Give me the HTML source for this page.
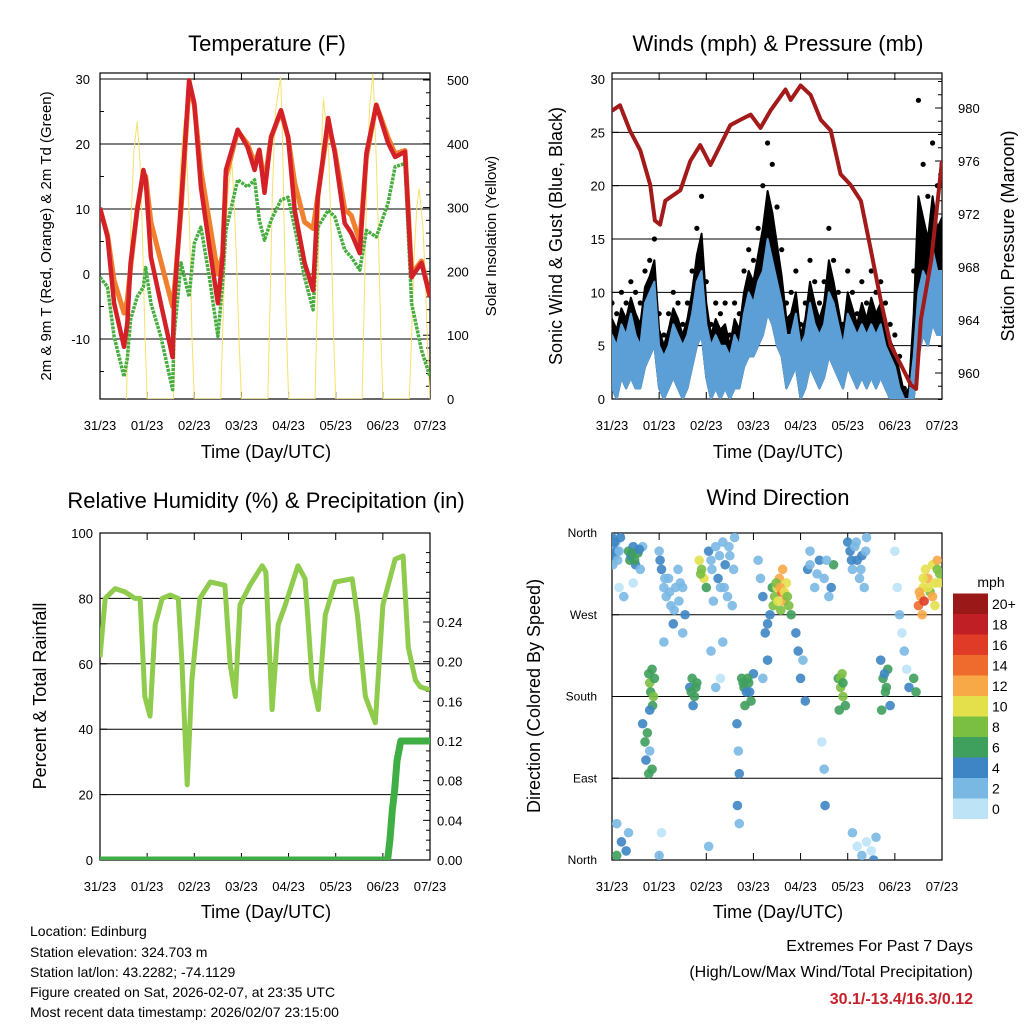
<!DOCTYPE html>
<html><head><meta charset="utf-8">
<style>
body{margin:0;background:#fff;}
svg{display:block;font-family:"Liberation Sans",sans-serif;}
</style></head>
<body>
<svg id="chart" xmlns="http://www.w3.org/2000/svg" width="1024" height="1024" viewBox="0 0 1024 1024">
<rect width="1024" height="1024" fill="#fff"/>
<defs>
<clipPath id="c1"><rect x="100" y="73" width="330" height="326"/></clipPath>
<clipPath id="c2"><rect x="612" y="73" width="330" height="326"/></clipPath>
<clipPath id="c3"><rect x="100" y="533" width="330" height="327"/></clipPath>
<clipPath id="c4"><rect x="612" y="533" width="330" height="327"/></clipPath>
</defs>
<text x="267" y="51" font-size="22" text-anchor="middle">Temperature (F)</text>
<text x="778" y="51" font-size="22" text-anchor="middle">Winds (mph) &amp; Pressure (mb)</text>
<text x="266" y="508" font-size="22" text-anchor="middle">Relative Humidity (%) &amp; Precipitation (in)</text>
<text x="778" y="505" font-size="22" text-anchor="middle">Wind Direction</text>
<text x="266" y="458" font-size="18" text-anchor="middle">Time (Day/UTC)</text>
<text x="778" y="458" font-size="18" text-anchor="middle">Time (Day/UTC)</text>
<text x="266" y="918" font-size="18" text-anchor="middle">Time (Day/UTC)</text>
<text x="778" y="918" font-size="18" text-anchor="middle">Time (Day/UTC)</text>
<text transform="translate(51,236) rotate(-90)" font-size="15" text-anchor="middle">2m &amp; 9m T (Red, Orange) &amp; 2m Td (Green)</text>
<text transform="translate(496,236) rotate(-90)" font-size="15" text-anchor="middle">Solar Insolation (Yellow)</text>
<text transform="translate(562,236) rotate(-90)" font-size="18" text-anchor="middle">Sonic Wind &amp; Gust (Blue, Black)</text>
<text transform="translate(1014,236) rotate(-90)" font-size="18" text-anchor="middle">Station Pressure (Maroon)</text>
<text transform="translate(46,696) rotate(-90)" font-size="18" text-anchor="middle">Percent &amp; Total Rainfall</text>
<text transform="translate(540,696) rotate(-90)" font-size="18" text-anchor="middle">Direction (Colored By Speed)</text>
<text x="991" y="587" font-size="14" text-anchor="middle">mph</text>
<g font-size="14">
<text x="30" y="936">Location: Edinburg</text>
<text x="30" y="957">Station elevation: 324.703 m</text>
<text x="30" y="977">Station lat/lon: 43.2282; -74.1129</text>
<text x="30" y="997">Figure created on Sat, 2026-02-07, at 23:35 UTC</text>
<text x="30" y="1017">Most recent data timestamp: 2026/02/07 23:15:00</text>
</g>
<g font-size="16" text-anchor="end">
<text x="973" y="951">Extremes For Past 7 Days</text>
<text x="973" y="977">(High/Low/Max Wind/Total Precipitation)</text>
<text x="973" y="1004" fill="#c8202a" font-weight="bold">30.1/-13.4/16.3/0.12</text>
</g>
</svg>
<script>
// ---------- data ----------
const dayLabels = ["31/23","01/23","02/23","03/23","04/23","05/23","06/23","07/23"];
const tempT = [0,0.16,0.3,0.51,0.58,0.65,0.79,0.92,0.97,1.08,1.29,1.54,1.57,1.72,1.89,2.0,2.14,2.32,2.5,2.6,2.67,2.92,3.13,3.28,3.38,3.49,3.63,3.84,3.99,4.13,4.34,4.52,4.62,4.84,4.98,5.19,5.33,5.51,5.65,5.86,6.11,6.26,6.47,6.61,6.82,7.0];
const temp2m = [10.2,5.7,-4.5,-11.2,-7.6,1.7,9.8,16,14.5,2.6,-4.5,-12.8,-4.5,10.9,29.8,26.3,13.4,4.2,-4.5,2.6,16,22.2,19.5,16,19.1,12.5,21.1,25.2,21.1,9.8,1.7,-2.5,11.8,24,18.6,7.8,6.3,3.2,18.6,26,20.2,18,18.8,-0.5,1.7,-3.5];
const temp9m = [10,6,-1,-6,-4,1,10,15.5,15,8,2,-5,-3,10,29,26,16,8,0,3,15,22,20,17,19,14,21,25,21,14,8,7,12,23,19,10,9,5,18,26,21,18.5,19,0,2,-3.5];
const dewpt = [-0.5,-2,-9.6,-15.8,-13,-7,-3.5,-2,1,-4.5,-9.6,-17.8,-9.6,1.7,-3.5,4.7,7.2,-0.5,-9.6,-1.4,6.7,14.5,13.4,14.5,8.3,5.2,8.3,11.4,11.8,7.2,-0.5,-5.5,7.2,9.8,8.8,3.7,2.6,0.6,6.7,5.7,10.9,16.5,17,-4.5,-11.7,-15.8];
const solarT = [0.56,0.61,0.66,0.72,0.79,0.85,0.9,0.95,1.0, 1.56,1.61,1.66,1.72,1.79,1.85,1.9,1.95,2.0, 2.56,2.61,2.66,2.72,2.8,2.85,2.9,2.95,3.0, 3.56,3.61,3.66,3.72,3.83,3.87,3.9,3.95,4.0, 4.56,4.61,4.66,4.72,4.74,4.85,4.9,4.95,5.0, 5.56,5.61,5.66,5.72,5.79,5.85,5.9,5.95,6.0, 6.56,6.61,6.66,6.72,6.77,6.85,6.9,6.95,7.0];
const solarV = [0,130,285,390,435,370,260,110,0, 0,140,300,380,440,360,270,100,0, 0,120,250,330,370,300,210,90,0, 0,160,330,450,505,420,290,120,0, 0,150,300,440,470,390,270,110,0, 0,170,340,460,510,400,280,120,0, 0,100,220,300,330,270,190,80,0];

const windT = [0,0.1,0.2,0.3,0.4,0.5,0.6,0.7,0.8,0.9,1,1.1,1.2,1.3,1.4,1.5,1.6,1.7,1.8,1.9,2,2.1,2.2,2.3,2.4,2.5,2.6,2.7,2.8,2.9,3,3.1,3.2,3.3,3.4,3.5,3.6,3.7,3.8,3.9,4,4.1,4.2,4.3,4.4,4.5,4.6,4.7,4.8,4.9,5,5.1,5.2,5.3,5.4,5.5,5.6,5.7,5.8,5.9,6,6.1,6.2,6.3,6.4,6.5,6.6,6.7,6.8,6.9,7];
const windHi = [6,5,7,6,8,6,5,9,10,11, 5,4,5,7,6,5,6,8,11,12, 7,5,6,5,5,4,6,5,8,10, 9,11,12,15,13,11,9,6,6,8, 5,6,9,7,6,7,10,9,7,5, 8,7,6,7,6,7,6,7,5,4, 3,1,0,0,4,10,12,11,14,12,12];
const windLo = [1,0,2,1,2,1,1,3,4,5, 1,0,1,2,1,0,1,3,5,6, 2,0,1,0,1,0,1,1,3,4, 4,5,6,8,7,5,4,1,2,3, 0,1,3,2,1,2,4,3,2,1, 3,2,1,2,1,2,1,2,1,0, 0,0,0,0,0,4,6,5,7,6,6];
const gust = [9,8,10,9,11,10,9,12,13,15, 8,6,8,10,9,7,9,12,16,19, 11,7,9,8,9,6,9,8,12,14, 13,16,20,24,22,18,14,9,10,12, 7,9,13,11,9,11,16,13,10,7, 12,10,8,11,9,12,10,11,9,7, 6,4,1,2,12,28,22,19,24,20,22];
const presT = [0,0.17,0.38,0.6,0.81,0.91,1.02,1.13,1.45,1.66,1.87,2.09,2.3,2.51,2.72,2.94,3.15,3.36,3.68,3.79,4.0,4.21,4.43,4.64,4.85,5.06,5.28,5.49,5.7,5.91,6.13,6.34,6.45,6.55,6.77,7.0];
const presV = [979.8,980.2,978.3,976.8,974.2,971.5,971.2,973,973.8,976,977.2,975.7,977.2,978.7,979.1,979.5,978.5,979.8,981.4,980.6,981.7,981,979.1,978.3,975,974.2,973,969.3,965.5,962.1,960.6,959.1,958.8,964,968.5,976];

const rhT = [0,0.11,0.32,0.53,0.74,0.85,0.95,1.06,1.17,1.32,1.49,1.66,1.74,1.85,1.95,2.12,2.34,2.65,2.76,2.87,2.97,3.18,3.44,3.52,3.65,3.78,3.93,4.2,4.35,4.5,4.63,4.78,4.99,5.35,5.46,5.63,5.84,6.0,6.26,6.43,6.54,6.69,6.79,7.0];
const rhV = [62,80,83,82,80,80,50,44,72,80,81,80,60,23,55,80,85,84,60,50,78,84,90,88,46,72,78,90,86,55,46,75,85,86,75,50,42,78,92,93,65,55,53,52];
const precipT = [0,6.1,6.15,6.2,6.25,6.3,6.38,7.0];
const precipV = [0,0,0.02,0.05,0.07,0.1,0.12,0.12];

const dirT = [0.0,0.03,0.05,0.08,0.1,0.12,0.02,0.35,0.38,0.4,0.45,0.5,0.55,0.6,0.65,0.15,0.25,0.45,0.78,0.8,0.82,0.85,0.88,0.9,0.86,0.8,0.65,0.7,0.72,0.75,0.78,0.8,0.85,1.0,1.05,1.1,1.15,1.2,1.25,1.3,1.35,1.4,1.45,1.5,1.55,1.1,1.65,1.7,1.75,1.8,1.72,1.85,1.9,1.95,1.88,2.0,2.05,2.1,2.2,2.25,2.3,2.35,2.4,2.45,2.5,2.55,2.6,2.15,2.1,2.2,2.3,2.35,2.75,2.8,2.85,2.9,2.95,3.0,2.82,2.65,2.68,2.7,2.66,2.7,3.1,3.15,3.2,3.25,3.3,3.35,3.4,3.2,3.45,3.5,3.55,3.6,3.65,3.7,3.75,3.62,3.58,3.8,3.9,3.95,4.0,4.05,4.1,4.15,4.2,4.3,4.4,4.5,4.6,4.7,4.45,4.5,4.52,4.8,4.85,4.9,4.88,4.95,4.82,5.0,5.05,5.1,5.15,5.2,5.25,5.3,5.35,5.4,5.1,5.2,5.3,5.4,5.5,5.6,5.55,5.7,5.75,5.8,5.85,5.9,5.72,6.0,6.05,6.1,6.15,6.2,6.25,6.3,6.4,6.45,6.5,6.55,6.6,6.65,6.7,6.75,6.8,6.85,6.9,6.95,6.58,6.62,0.1,0.2,0.3,0.35,0.1,1.0,1.05,2.05,
0.05,0.15,0.18,0.42,0.48,0.58,1.02,1.12,1.22,1.32,1.42,1.5,1.68,1.78,2.12,2.28,2.38,2.48,2.58,2.78,2.88,2.92,3.42,3.48,3.52,3.57,3.66,3.72,3.3,4.2,4.35,4.55,4.65,4.85,4.9,5.08,5.18,5.28,5.38,5.78,5.82,6.6,6.7,6.8,6.9,6.52,6.85,6.95];
const dirV = [355,345,335,350,340,330,325,340,330,335,345,325,338,320,345,300,290,305,205,195,185,210,180,200,170,165,150,130,110,140,95,120,100,340,320,300,290,310,280,260,300,320,305,250,270,240,190,200,180,195,170,330,320,310,315,300,340,330,345,310,300,350,325,290,335,280,355,285,230,190,200,240,200,190,185,195,175,205,170,150,120,95,60,40,330,310,290,250,220,270,300,200,290,300,310,295,285,305,280,320,275,270,250,230,200,220,175,320,340,300,330,310,290,325,130,100,60,200,190,180,205,170,165,350,340,320,345,330,310,335,300,355,30,15,5,20,10,25,0,220,200,185,210,170,165,340,300,270,250,230,210,190,200,185,280,290,300,320,310,295,325,305,330,315,270,285,40,20,10,30,5,5,30,15,
350,340,355,338,330,342,330,310,295,275,285,300,185,190,320,335,300,345,320,195,200,185,280,305,285,300,295,290,260,325,315,330,300,200,195,330,350,320,340,205,190,310,300,290,320,295,280,305];
const dirS = [4,3,4,2,4,3,2,6,6,5,4,4,6,3,2,1,2,1,6,8,7,7,9,6,6,4,4,6,4,7,6,3,6,2,4,3,2,2,2,4,2,2,2,2,4,3,5,7,6,7,4,10,9,10,8,7,4,3,2,4,2,2,4,3,2,2,2,2,2,2,1,2,6,6,5,6,6,4,6,4,2,4,4,2,2,2,4,4,4,4,6,2,8,10,13,14,12,10,8,12,9,6,4,4,4,2,4,4,2,2,4,2,2,6,1,2,4,7,8,9,8,6,6,4,4,2,2,4,2,4,2,2,2,1,2,0,1,2,4,4,7,6,6,4,6,0,1,2,0,2,1,4,7,6,14,12,10,10,12,9,11,10,12,8,13,16,2,4,4,2,6,2,1,2,
4,3,4,7,6,4,4,2,2,2,2,2,6,7,2,2,2,2,2,6,6,5,8,9,11,12,10,9,4,2,2,2,4,8,7,4,2,2,2,5,6,11,10,12,9,12,10,11];
const speedLabels = ["0","2","4","6","8","10","12","14","16","18","20+"];
const speedColors = ["#bde3f7","#7ab8e4","#3d85c4","#3f9f5c","#7bbf42","#e4e04c","#f7a947","#ee6a2d","#df3b27","#c01f25","#9a1818"];

// ---------- helpers ----------
const NS = "http://www.w3.org/2000/svg";
const svg = document.getElementById('chart');
function mk(tag, attrs, parent) {
  const e = document.createElementNS(NS, tag);
  for (const k in attrs) e.setAttribute(k, attrs[k]);
  (parent || svg).appendChild(e);
  return e;
}
function linScale(d0, d1, r0, r1) { return v => r0 + (v - d0) * (r1 - r0) / (d1 - d0); }
function pts(xs, ys, fx, fy) { return xs.map((t, i) => fx(t).toFixed(1) + "," + fy(ys[i]).toFixed(1)).join(" "); }

function panel(x0, x1, y0, y1, pname) {
  const g = mk('g', {});
  
  
  const fx = linScale(0, 7, x0, x1);
  for (let i = 0; i < dayLabels.length; i++) {
    const x = fx(i);
    mk('line', {x1: x, x2: x, y1: y1, y2: y1 - 7, stroke: '#000', 'stroke-width': 1}, g);
    mk('line', {x1: x, x2: x, y1: y0, y2: y0 + 7, stroke: '#000', 'stroke-width': 1}, g);
    const tl = mk('text', {x: x, y: y1 + 31, 'font-size': 13, 'text-anchor': 'middle'}, g);
    tl.textContent = dayLabels[i];
    
    
  }
  return {g, fx};
}
function frame(x0, x1, y0, y1, g) {
  mk('rect', {x: x0, y: y0, width: x1 - x0, height: y1 - y0, fill: 'none', stroke: '#000', 'stroke-width': 1.2}, g);
}
function yAxis(g, vals, fy, x, side, fmt, major, x0, x1, grid, off) {
  vals.forEach(v => {
    const y = fy(v);
    const len = major ? 7 : 4;
    mk('line', {x1: x, x2: x + (side === 'left' ? len : -len), y1: y, y2: y, stroke: '#000', 'stroke-width': 1}, g);
    if (grid) mk('line', {x1: x0, x2: x1, y1: y, y2: y, stroke: '#000', 'stroke-width': 1}, g);
    if (fmt) {
      const o = off || 10;
      const t = mk('text', {x: side === 'left' ? x - o : x + o, y: y + 5, 'font-size': 13, 'text-anchor': side === 'left' ? 'end' : 'start'}, g);
      t.textContent = fmt(v);
      
      
    }
  });
}
function rng(a, b, s) { const r = []; for (let v = a; v <= b + 1e-9; v += s) r.push(+v.toFixed(4)); return r; }

// ---------- Panel 1: temperature ----------
{
  const {g, fx} = panel(100, 430, 73, 399, 'temperature');
  const fy = linScale(0, 10, 274, 209);
  const fs = linScale(0, 500, 399, 80);
  yAxis(g, [-10, 0, 10, 20, 30], fy, 100, 'left', v => v, true, 100, 430, true, 10);
  yAxis(g, [-15, -5, 5, 15, 25], fy, 100, 'left', null, false);
  yAxis(g, [0, 100, 200, 300, 400, 500], fs, 430, 'right', v => v, true, 0, 0, false, 17);
  yAxis(g, rng(20, 500, 20).filter(v => v % 100), fs, 430, 'right', null, false);
  const d = mk('g', {'clip-path': 'url(#c1)'});
  
  
  const s = mk('polyline', {points: pts(solarT, solarV, fx, fs), fill: 'none', stroke: '#f7e06a', 'stroke-width': 1}, d);
  
  
  const o = mk('polyline', {points: pts(tempT, temp9m, fx, fy), fill: 'none', stroke: '#f07f2e', 'stroke-width': 5, 'stroke-linejoin': 'round'}, d);
  
  
  const gr = mk('polyline', {points: pts(tempT, dewpt, fx, fy), fill: 'none', stroke: '#46ad3e', 'stroke-width': 3.5, 'stroke-dasharray': '3 1', 'stroke-linejoin': 'round'}, d);
  
  
  const r = mk('polyline', {points: pts(tempT, temp2m, fx, fy), fill: 'none', stroke: '#d42027', 'stroke-width': 4.5, 'stroke-linejoin': 'round'}, d);
  
  
  frame(100, 430, 73, 399, g);
}

// ---------- Panel 2: winds & pressure ----------
{
  const {g, fx} = panel(612, 942, 73, 399, 'winds');
  const fy = linScale(0, 30, 399, 79);
  const fp = linScale(960, 980, 373, 108);
  yAxis(g, [0, 5, 10, 15, 20, 25, 30], fy, 612, 'left', v => v, true, 612, 942, true, 7);
  yAxis(g, [960, 964, 968, 972, 976, 980], fp, 942, 'right', v => v, true, 0, 0, false, 16);
  yAxis(g, rng(958, 982, 1).filter(v => v % 4), fp, 942, 'right', null, false);
  const d = mk('g', {'clip-path': 'url(#c2)'});
  
  
  const gustBody = gust.map((v, i) => (v + windHi[i]) / 2);
  const gb = mk('polygon', {points: pts(windT, gustBody, fx, fy) + " " + pts(windT.slice().reverse(), windLo.slice().reverse(), fx, fy), fill: '#000', stroke: '#000', 'stroke-width': 2, 'stroke-linejoin': 'round'}, d);
  
  
  windT.forEach((t, i) => {
    const c = mk('circle', {cx: fx(t), cy: fy(gust[i]), r: 2.6, fill: '#000'}, d);
    
    
  });
  const wb = mk('polygon', {points: pts(windT, windHi, fx, fy) + " " + pts(windT.slice().reverse(), windLo.slice().reverse(), fx, fy), fill: '#5b9fd6', stroke: '#5b9fd6', 'stroke-width': 2, 'stroke-linejoin': 'round'}, d);
  
  
  const p = mk('polyline', {points: pts(presT, presV, fx, fp), fill: 'none', stroke: '#a31a1a', 'stroke-width': 4, 'stroke-linejoin': 'round'}, d);
  
  
  frame(612, 942, 73, 399, g);
}

// ---------- Panel 3: humidity & precipitation ----------
{
  const {g, fx} = panel(100, 430, 533, 860, 'humidity');
  const fy = linScale(0, 100, 860, 533);
  const fr = linScale(0, 0.24, 860, 622);
  yAxis(g, [0, 20, 40, 60, 80, 100], fy, 100, 'left', v => v, true, 100, 430, true, 7);
  yAxis(g, [0, 0.04, 0.08, 0.12, 0.16, 0.20, 0.24], fr, 430, 'right', v => v.toFixed(2), true, 0, 0, false, 7);
  yAxis(g, rng(0.01, 0.32, 0.01).filter(v => Math.round(v * 100) % 4), fr, 430, 'right', null, false);
  const d = mk('g', {'clip-path': 'url(#c3)'});
  
  
  const h = mk('polyline', {points: pts(rhT, rhV, fx, fy), fill: 'none', stroke: '#8fcb4d', 'stroke-width': 5, 'stroke-linejoin': 'round'}, d);
  
  
  const pr = mk('polyline', {points: pts(precipT, precipV, fx, fr), fill: 'none', stroke: '#3fae45', 'stroke-width': 7, 'stroke-linejoin': 'round'}, d);
  
  
  frame(100, 430, 533, 860, g);
}

// ---------- Panel 4: wind direction ----------
{
  const {g, fx} = panel(612, 942, 533, 860, 'direction');
  const fy = linScale(0, 360, 860, 533);
  const dirNames = ["North", "East", "South", "West", "North"];
  [0, 90, 180, 270, 360].forEach((v, i) => {
    const y = fy(v);
    mk('line', {x1: 612, x2: 619, y1: y, y2: y, stroke: '#000'}, g);
    if (v > 0 && v < 360) mk('line', {x1: 612, x2: 942, y1: y, y2: y, stroke: '#000'}, g);
    const t = mk('text', {x: 597, y: y + 4, 'font-size': 12, 'text-anchor': 'end'}, g);
    t.textContent = dirNames[i];
    
    
  });
  const d = mk('g', {'clip-path': 'url(#c4)'});
  
  
  dirT.forEach((t, i) => {
    const bin = Math.min(10, Math.floor(dirS[i] / 2));
    const c = mk('circle', {cx: fx(t), cy: fy(dirV[i]), r: 4.8, fill: speedColors[bin], 'fill-opacity': 0.9}, d);
    
    
  });
  frame(612, 942, 533, 860, g);
  const cb = mk('g', {});
  
  
  const h = 20.5;
  speedLabels.forEach((lab, i) => {
    const y = 819 - (i + 1) * h;
    const r = mk('rect', {x: 953, y: y, width: 35, height: h, fill: speedColors[i]}, cb);
    
    
    const t = mk('text', {x: 992, y: y + h / 2 + 5, 'font-size': 14}, cb);
    t.textContent = lab;
    
    
  });
}
</script>
</body></html>
